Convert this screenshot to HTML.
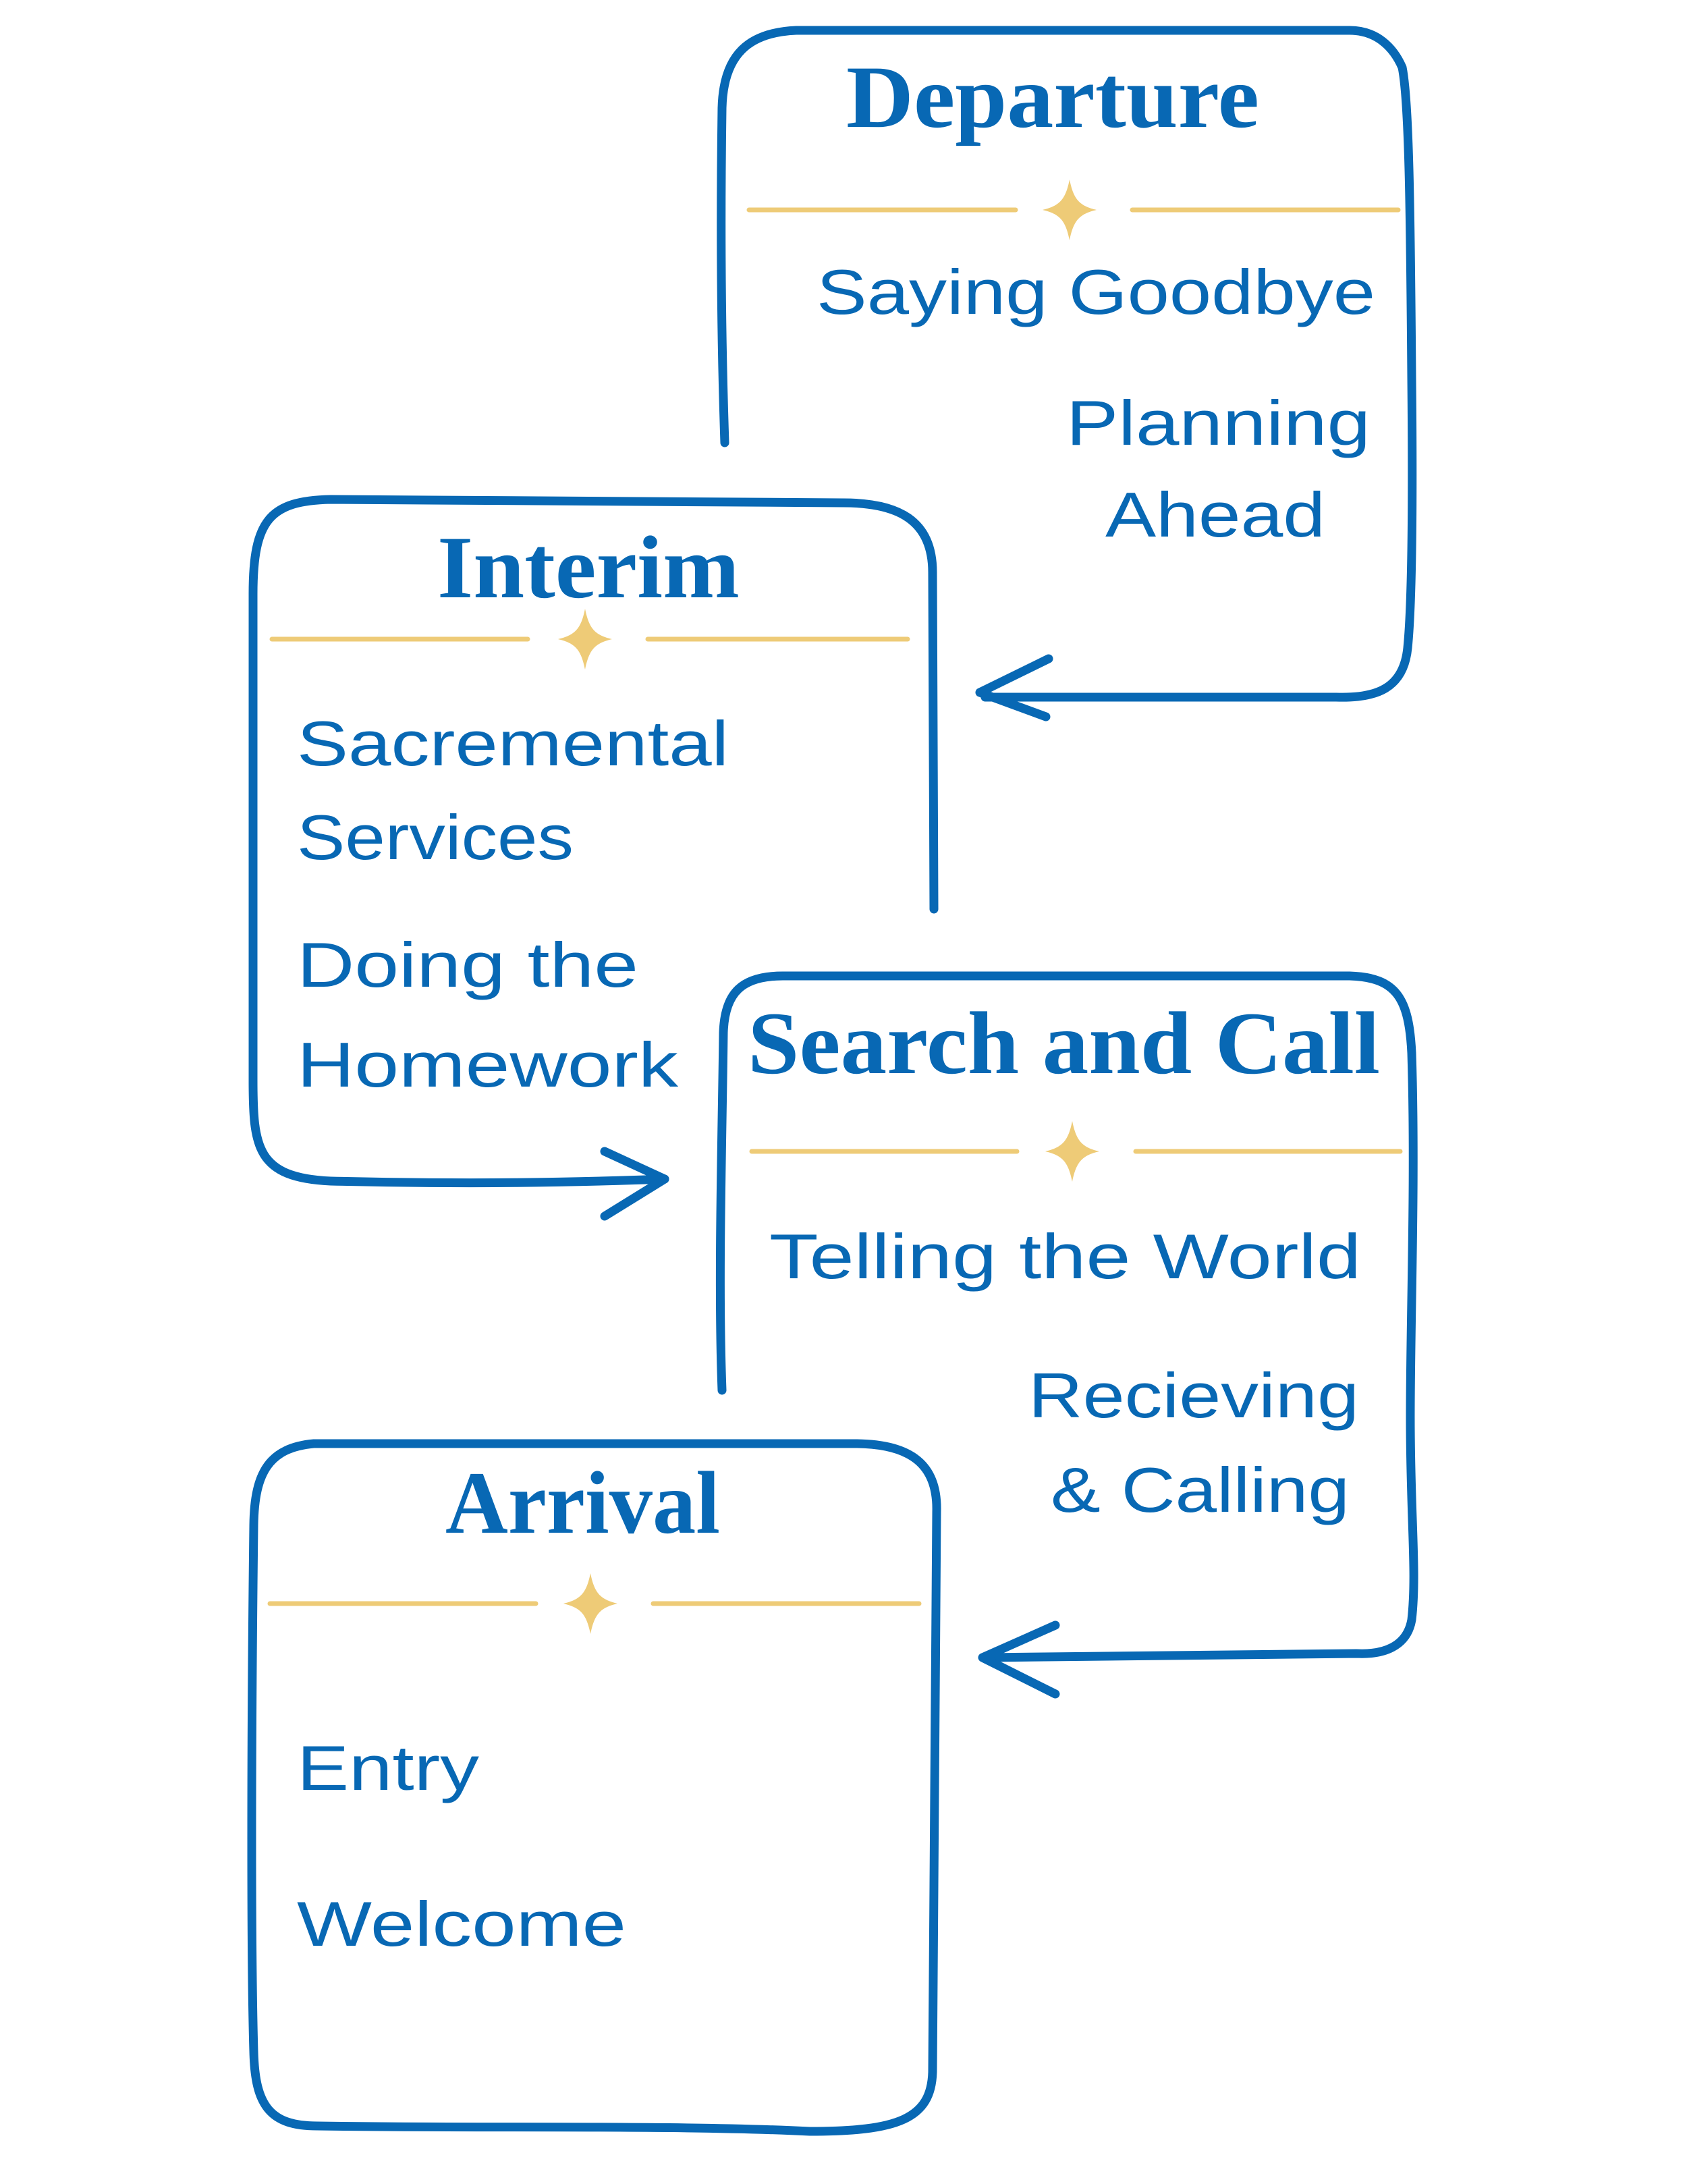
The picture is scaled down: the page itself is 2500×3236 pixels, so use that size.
<!DOCTYPE html>
<html><head><meta charset="utf-8"><style>html,body{margin:0;padding:0;background:#fff}svg{display:block}</style></head>
<body>
<svg width="2500" height="3236" viewBox="0 0 2500 3236" xmlns="http://www.w3.org/2000/svg">
<defs>
<g id="star"><path d="M0,-45 C6,-15 15,-6 40,0 C15,6 6,15 0,45 C-6,15 -15,6 -40,0 C-15,-6 -6,-15 0,-45Z" fill="#eecb77"/></g>
</defs>
<g fill="none" stroke="#0868b4" stroke-width="13" stroke-linecap="round" stroke-linejoin="round">
<!-- Departure -->
<path d="M1074,656 C1068,480 1068,300 1070,160 C1072,80 1110,48 1180,45 L2000,45 C2040,45 2065,70 2078,100 C2088,150 2090,300 2092,560 C2094,760 2092,900 2086,960 C2080,1020 2040,1035 1980,1033 L1460,1033"/>
<path d="M1554,976 L1452,1026 L1550,1062"/>
<!-- Interim -->
<path d="M1384,1347 L1382,848 C1382,770 1330,745 1250,745 L490,740 C400,742 375,770 375,880 L375,1600 C375,1700 380,1745 490,1750 C700,1755 850,1752 985,1747"/>
<path d="M896,1706 L985,1747 L896,1802"/>
<!-- Search and Call -->
<path d="M1070,2060 C1064,1900 1070,1700 1072,1530 C1074,1470 1100,1446 1160,1446 L2000,1446 C2070,1448 2088,1480 2092,1560 C2098,1750 2090,1950 2090,2100 C2090,2250 2100,2330 2092,2400 C2085,2440 2050,2452 2010,2450 L1460,2456"/>
<path d="M1564,2408 L1456,2456 L1564,2510"/>
<!-- Arrival -->
<path d="M1266,2139 L465,2139 C400,2145 377,2180 376,2260 C372,2600 372,2900 376,3040 C378,3120 400,3150 470,3150 C700,3154 1000,3148 1200,3158 C1330,3158 1380,3140 1382,3070 L1388,2240 C1390,2170 1350,2139 1266,2139Z"/>
</g>
<g stroke="#eecb77" stroke-width="7" stroke-linecap="round">
<line x1="1110" y1="311" x2="1505" y2="311"/><line x1="1678" y1="311" x2="2072" y2="311"/>
<line x1="403" y1="947" x2="782" y2="947"/><line x1="960" y1="947" x2="1345" y2="947"/>
<line x1="1114" y1="1706" x2="1507" y2="1706"/><line x1="1683" y1="1706" x2="2075" y2="1706"/>
<line x1="400" y1="2376" x2="794" y2="2376"/><line x1="968" y1="2376" x2="1362" y2="2376"/>
</g>
<use href="#star" x="1585" y="311"/>
<use href="#star" x="867" y="947"/>
<use href="#star" x="1589" y="1706"/>
<use href="#star" x="875" y="2376"/>
<g fill="#0868b4" font-family="Liberation Serif, serif" font-weight="bold" font-size="132">
<text x="1254" y="188" textLength="612" lengthAdjust="spacingAndGlyphs">Departure</text>
<text x="648" y="885" textLength="448" lengthAdjust="spacingAndGlyphs">Interim</text>
<text x="1108" y="1590" textLength="937" lengthAdjust="spacingAndGlyphs">Search and Call</text>
<text x="660" y="2271" textLength="407" lengthAdjust="spacingAndGlyphs">Arrival</text>
</g>
<g fill="#0868b4" font-family="Liberation Sans, sans-serif" font-size="94">
<text x="1210" y="465" textLength="828" lengthAdjust="spacingAndGlyphs">Saying Goodbye</text>
<text x="1580" y="659" textLength="451" lengthAdjust="spacingAndGlyphs">Planning</text>
<text x="1638" y="795" textLength="326" lengthAdjust="spacingAndGlyphs">Ahead</text>
<text x="440" y="1134" textLength="640" lengthAdjust="spacingAndGlyphs">Sacremental</text>
<text x="440" y="1273" textLength="410" lengthAdjust="spacingAndGlyphs">Services</text>
<text x="440" y="1462" textLength="506" lengthAdjust="spacingAndGlyphs">Doing the</text>
<text x="440" y="1610" textLength="565" lengthAdjust="spacingAndGlyphs">Homework</text>
<text x="1140" y="1894" textLength="877" lengthAdjust="spacingAndGlyphs">Telling the World</text>
<text x="1524" y="2100" textLength="490" lengthAdjust="spacingAndGlyphs">Recieving</text>
<text x="1557" y="2240" textLength="443" lengthAdjust="spacingAndGlyphs">&amp; Calling</text>
<text x="440" y="2652" textLength="270" lengthAdjust="spacingAndGlyphs">Entry</text>
<text x="440" y="2883" textLength="488" lengthAdjust="spacingAndGlyphs">Welcome</text>
</g>
</svg>
</body></html>
